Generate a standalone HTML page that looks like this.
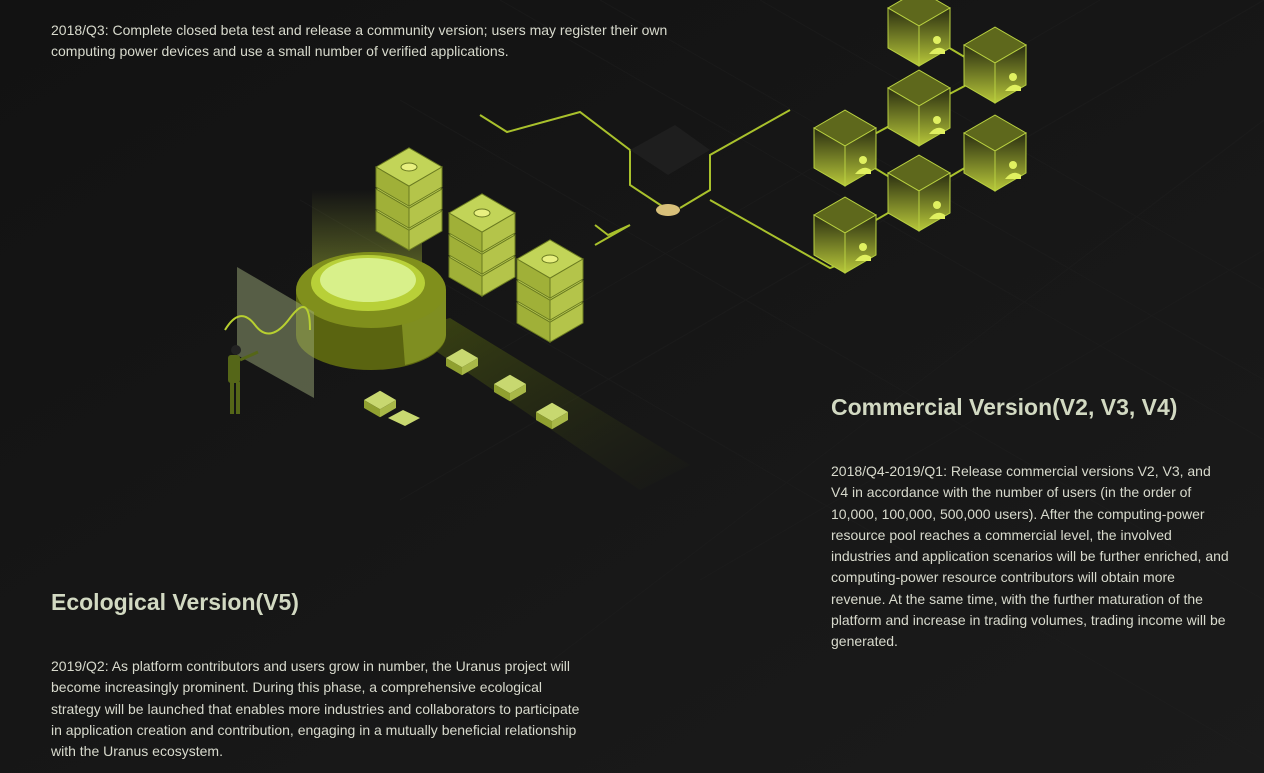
<!DOCTYPE html>
<html><head><meta charset="utf-8">
<style>
html,body{margin:0;padding:0;background:#151515;}
body{width:1264px;height:773px;position:relative;overflow:hidden;font-family:"Liberation Sans",Arial,sans-serif;}
svg{position:absolute;left:0;top:0;}
.t{position:absolute;color:#d8dacd;font-size:14px;line-height:21.3px;}
.h{position:absolute;color:#d2d9c2;font-size:23px;font-weight:bold;}
</style></head><body>
<svg width="1264" height="773" id="s">
<defs>
<linearGradient id="bg" x1="0" y1="0" x2="1" y2="1"><stop offset="0" stop-color="#121212"/><stop offset="1" stop-color="#1b1b1b"/></linearGradient>
<linearGradient id="cs" x1="0" y1="0" x2="0" y2="1"><stop offset="0" stop-color="#2a2e10"/><stop offset="1" stop-color="#b8c83a"/></linearGradient>
<linearGradient id="beam" x1="0" y1="0" x2="0" y2="1"><stop offset="0" stop-color="#c8e040" stop-opacity="0"/><stop offset="1" stop-color="#c8e040" stop-opacity="0.45"/></linearGradient>
<linearGradient id="road" x1="0" y1="0" x2="1" y2="1"><stop offset="0" stop-color="#5a6a10" stop-opacity="0.55"/><stop offset="1" stop-color="#3a4410" stop-opacity="0"/></linearGradient>
</defs>
<rect width="1264" height="773" fill="url(#bg)"/>
<g stroke="#1f1f1f" stroke-width="1" fill="none" opacity="0.5">
<path d="M400 100 L1264 600 M500 0 L1264 440 M300 200 L1264 760 M600 0 L1264 380 M760 0 L1264 290"/>
<path d="M1264 0 L400 500 M1264 120 L500 700 M1264 250 L700 580 M1100 0 L500 350"/>
</g>
<polygon points="405,330 450,318 690,465 640,490" fill="url(#road)"/>
<g stroke="#a9c12c" stroke-width="2" fill="none">
<path d="M480 115 L507 132 L580 112 L630 150 L630 185 L668 210"/>
<path d="M595 225 L608 235 L630 225 L595 245"/>
<path d="M680 208 L710 190 L710 155 L790 110"/>
<path d="M710 200 L830 268 L845 262"/>
<path d="M919 30 L995 75 M919 110 L995 70 M845 150 L919 110 M845 150 L919 195 M919 195 L995 150 M845 238 L919 195"/>
</g>
<polygon points="630,150 675,125 710,150 668,175" fill="#1e1e1e"/>
<ellipse cx="668" cy="210" rx="12" ry="6" fill="#d8c07a"/>
<g id="cubes"></g>
<rect x="312" y="190" width="110" height="100" fill="url(#beam)"/>
<path d="M296 290 L296 335 A75 35 0 0 0 446 335 L446 290 Z" fill="#5a6410"/>
<path d="M400 300 L446 290 L446 335 A75 35 0 0 1 405 365 Z" fill="#8fa02a" opacity="0.7"/>
<ellipse cx="371" cy="290" rx="75" ry="38" fill="#808f1c"/>
<ellipse cx="368" cy="283" rx="57" ry="28" fill="#b8d038"/>
<ellipse cx="368" cy="280" rx="48" ry="22" fill="#d8f08a"/>
<polygon points="237,267 314,312 314,398 237,355" fill="#9aa878" opacity="0.5"/>
<path d="M225 330 Q240 305 255 325 T290 318 T310 330" stroke="#b8d030" stroke-width="2" fill="none"/>
<g fill="#556618"><rect x="228" y="355" width="12" height="28" rx="3"/><rect x="230" y="382" width="4" height="32"/><rect x="236" y="382" width="4" height="32"/><circle cx="236" cy="350" r="5" fill="#222"/><path d="M240 360 L258 352" stroke="#556618" stroke-width="3"/></g>
<g id="serv"></g>
</svg>
<script>
function cube(x,y,w,h,top,l,r,stroke){var t=w/2*0.58;
return '<polygon points="'+(x-w/2)+','+y+' '+x+','+(y-t)+' '+(x+w/2)+','+y+' '+x+','+(y+t)+'" fill="'+top+'"'+(stroke?' stroke="'+stroke+'"':'')+'/>'+
'<polygon points="'+(x-w/2)+','+y+' '+x+','+(y+t)+' '+x+','+(y+t+h)+' '+(x-w/2)+','+(y+h)+'" fill="'+l+'"'+(stroke?' stroke="'+stroke+'"':'')+'/>'+
'<polygon points="'+(x+w/2)+','+y+' '+x+','+(y+t)+' '+x+','+(y+t+h)+' '+(x+w/2)+','+(y+h)+'" fill="'+r+'"'+(stroke?' stroke="'+stroke+'"':'')+'/>';}
var s='';
[[919,8],[995,45],[919,88],[845,128],[995,133],[919,173],[845,215]].forEach(function(p){
s+=cube(p[0],p[1],62,40,'#5e681c','url(#cs)','url(#cs)','#b8d040');
s+='<circle cx="'+(p[0]+18)+'" cy="'+(p[1]+32)+'" r="4" fill="#e0f060"/><path d="M'+(p[0]+10)+' '+(p[1]+46)+' q8 -10 16 -4 l0 4 z" fill="#e0f060"/>';});
document.getElementById('cubes').innerHTML=s;
var v='';
[[409,167],[482,213],[550,259]].forEach(function(p){
for(var i=2;i>=0;i--){v+=cube(p[0],p[1]+i*22,66,20,'#c2d458','#a0b038','#b4c44a','#6a7a20');}
v+='<ellipse cx="'+p[0]+'" cy="'+p[1]+'" rx="8" ry="4" fill="#e8f080" stroke="#6a7a20"/>';});
[[462,358],[510,384],[552,412],[380,400]].forEach(function(p){v+=cube(p[0],p[1],32,8,'#c8d870','#90a030','#a8b848');});
v+='<polygon points="388,418 403,410 420,418 405,426" fill="#c8d870"/>';
document.getElementById('serv').innerHTML=v;
</script>
<div class="t" style="left:51px;top:20px;width:640px;">2018/Q3: Complete closed beta test and release a community version; users may register their own computing power devices and use a small number of verified applications.</div>
<div class="h" style="left:831px;top:394px;">Commercial Version(V2, V3, V4)</div>
<div class="t" style="left:831px;top:461px;width:400px;">2018/Q4-2019/Q1: Release commercial versions V2, V3, and V4 in accordance with the number of users (in the order of 10,000, 100,000, 500,000 users). After the computing-power resource pool reaches a commercial level, the involved industries and application scenarios will be further enriched, and computing-power resource contributors will obtain more revenue. At the same time, with the further maturation of the platform and increase in trading volumes, trading income will be generated.</div>
<div class="h" style="left:51px;top:589px;">Ecological Version(V5)</div>
<div class="t" style="left:51px;top:656px;width:535px;">2019/Q2: As platform contributors and users grow in number, the Uranus project will become increasingly prominent. During this phase, a comprehensive ecological strategy will be launched that enables more industries and collaborators to participate in application creation and contribution, engaging in a mutually beneficial relationship with the Uranus ecosystem.</div>
</body></html>
